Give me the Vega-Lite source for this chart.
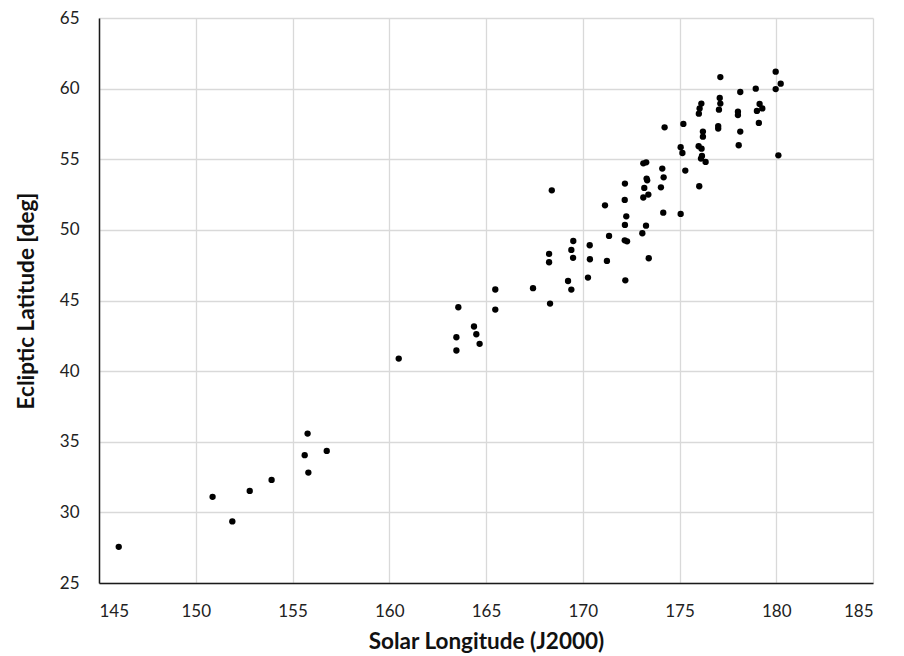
{
  "$schema": "https://vega.github.io/schema/vega-lite/v6.json",
  "width": 774,
  "height": 565,
  "autosize": {"type": "none"},
  "padding": {"left": 99, "top": 18, "right": 31, "bottom": 73},
  "background": "white",
  "config": {
    "view": {"stroke": null},
    "font": "Lato",
    "axis": {
      "labelFont": "Lato",
      "titleFont": "Lato",
      "labelFontSize": 17,
      "labelColor": "#222222",
      "titleFontSize": 22.5,
      "titleFontWeight": "bold",
      "titleColor": "#111111",
      "gridColor": "#d9d9d9",
      "gridWidth": 1.3,
      "ticks": false,
      "domainColor": "#1a1a1a",
      "domainWidth": 1.5
    }
  },
  "data": {
    "values": [
      {"lon": 146.02, "lat": 27.56},
      {"lon": 150.87, "lat": 31.1},
      {"lon": 151.89, "lat": 29.36},
      {"lon": 152.79, "lat": 31.52},
      {"lon": 153.92, "lat": 32.3},
      {"lon": 155.78, "lat": 35.58},
      {"lon": 155.63, "lat": 34.05},
      {"lon": 156.77, "lat": 34.35},
      {"lon": 155.82, "lat": 32.82},
      {"lon": 160.49, "lat": 40.89},
      {"lon": 163.47, "lat": 41.46},
      {"lon": 163.47, "lat": 42.4},
      {"lon": 163.57, "lat": 44.52},
      {"lon": 164.38, "lat": 43.16},
      {"lon": 164.5, "lat": 42.61},
      {"lon": 164.67, "lat": 41.93},
      {"lon": 165.48, "lat": 45.78},
      {"lon": 165.48, "lat": 44.36},
      {"lon": 167.43, "lat": 45.87},
      {"lon": 168.26, "lat": 48.3},
      {"lon": 168.26, "lat": 47.71},
      {"lon": 168.31, "lat": 44.78},
      {"lon": 168.4, "lat": 52.8},
      {"lon": 169.41, "lat": 48.58},
      {"lon": 169.5, "lat": 48.02},
      {"lon": 169.51, "lat": 49.21},
      {"lon": 169.24, "lat": 46.38},
      {"lon": 169.41, "lat": 45.77},
      {"lon": 170.36, "lat": 48.91},
      {"lon": 170.37, "lat": 47.92},
      {"lon": 170.27, "lat": 46.62},
      {"lon": 171.25, "lat": 47.8},
      {"lon": 171.15, "lat": 51.74},
      {"lon": 171.36, "lat": 49.57},
      {"lon": 172.18, "lat": 53.28},
      {"lon": 172.17, "lat": 52.12},
      {"lon": 172.25, "lat": 50.96},
      {"lon": 172.18, "lat": 50.35},
      {"lon": 172.17, "lat": 49.26},
      {"lon": 172.29, "lat": 49.19},
      {"lon": 172.2, "lat": 46.43},
      {"lon": 173.13, "lat": 54.71},
      {"lon": 173.28, "lat": 54.78},
      {"lon": 173.3, "lat": 53.63},
      {"lon": 173.33, "lat": 53.51},
      {"lon": 173.18, "lat": 52.97},
      {"lon": 173.13, "lat": 52.29},
      {"lon": 173.39, "lat": 52.5},
      {"lon": 173.27, "lat": 50.3},
      {"lon": 173.08, "lat": 49.76},
      {"lon": 173.41, "lat": 47.99},
      {"lon": 174.23, "lat": 57.26},
      {"lon": 174.11, "lat": 54.34},
      {"lon": 174.18, "lat": 53.72},
      {"lon": 174.04, "lat": 53.01},
      {"lon": 174.16, "lat": 51.22},
      {"lon": 175.2, "lat": 57.5},
      {"lon": 175.06, "lat": 55.85},
      {"lon": 175.15, "lat": 55.44},
      {"lon": 175.3, "lat": 54.2},
      {"lon": 175.06, "lat": 51.13},
      {"lon": 176.13, "lat": 58.94},
      {"lon": 176.04, "lat": 58.6},
      {"lon": 176.0, "lat": 58.23},
      {"lon": 176.21, "lat": 56.96},
      {"lon": 176.21, "lat": 56.6},
      {"lon": 175.99, "lat": 55.92},
      {"lon": 176.14, "lat": 55.75},
      {"lon": 176.16, "lat": 55.23},
      {"lon": 176.11, "lat": 55.05},
      {"lon": 176.35, "lat": 54.81},
      {"lon": 176.02, "lat": 53.09},
      {"lon": 177.11, "lat": 60.82},
      {"lon": 177.08, "lat": 59.34},
      {"lon": 177.11, "lat": 58.94},
      {"lon": 177.04, "lat": 58.51},
      {"lon": 177.0, "lat": 57.35},
      {"lon": 177.0, "lat": 57.17},
      {"lon": 178.14, "lat": 59.76},
      {"lon": 178.02, "lat": 58.37},
      {"lon": 178.02, "lat": 58.13},
      {"lon": 178.14, "lat": 56.96},
      {"lon": 178.06, "lat": 55.99},
      {"lon": 178.94, "lat": 60.0},
      {"lon": 179.14, "lat": 58.91},
      {"lon": 179.28, "lat": 58.6},
      {"lon": 179.0, "lat": 58.42},
      {"lon": 179.1, "lat": 57.57},
      {"lon": 179.97, "lat": 61.2},
      {"lon": 180.23, "lat": 60.35},
      {"lon": 179.97, "lat": 59.97},
      {"lon": 180.11, "lat": 55.28}
    ]
  },
  "mark": {"type": "circle", "size": 40, "color": "black", "opacity": 1},
  "encoding": {
    "x": {
      "field": "lon",
      "type": "quantitative",
      "title": "Solar Longitude (J2000)",
      "scale": {"domain": [145, 185], "nice": false, "zero": false},
      "axis": {"values": [145, 150, 155, 160, 165, 170, 175, 180, 185], "labelPadding": 20, "titlePadding": 11}
    },
    "y": {
      "field": "lat",
      "type": "quantitative",
      "title": "Ecliptic Latitude [deg]",
      "scale": {"domain": [25, 65], "nice": false, "zero": false},
      "axis": {"values": [25, 30, 35, 40, 45, 50, 55, 60, 65], "labelPadding": 20, "titlePadding": 21}
    }
  }
}
